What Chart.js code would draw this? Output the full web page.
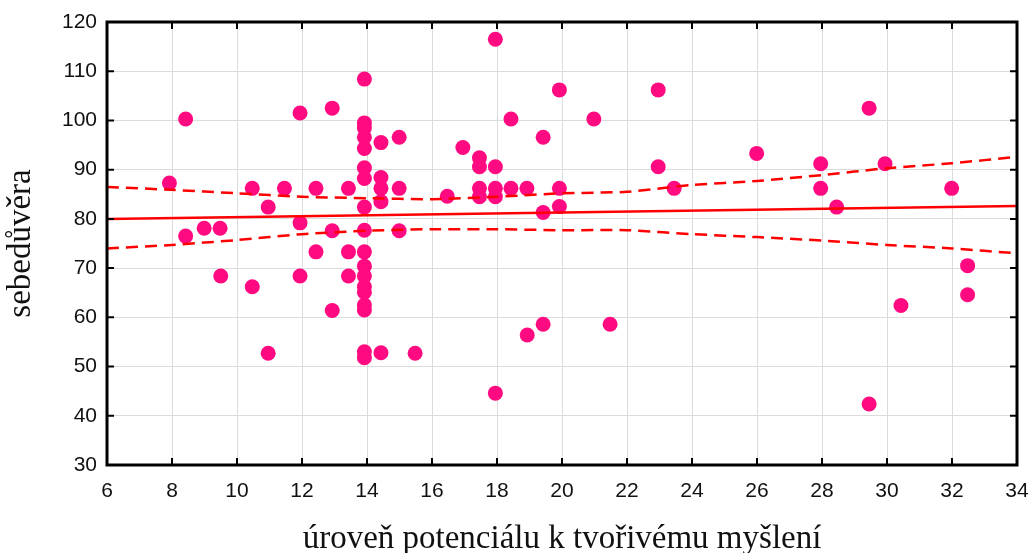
<!DOCTYPE html>
<html>
<head>
<meta charset="utf-8">
<script src="https://cdn.jsdelivr.net/npm/chart.js@4.4.0/dist/chart.umd.min.js"></script>
<style>
  html, body { margin: 0; padding: 0; background: #fff; }
</style>
</head>
<body>
<canvas id="scatter" width="1031" height="553"></canvas>
<script>
// body dat: x = úroveň potenciálu, y = sebedůvěra
const xVals = [7.92, 8.42, 8.42, 8.99, 9.48, 9.5, 10.47, 10.47, 10.96, 10.96, 11.46,
  11.94, 11.94, 11.94, 12.43, 12.43, 12.93, 12.93, 12.93, 13.43, 13.43, 13.43,
  13.92, 13.92, 13.92, 13.92, 13.92, 13.92, 13.92, 13.92, 13.92, 13.92, 13.92, 13.92, 13.92, 13.92, 13.92, 13.92, 13.92, 13.92,
  14.43, 14.43, 14.43, 14.43, 14.43, 14.99, 14.99, 14.99, 15.48, 16.47, 16.95,
  17.46, 17.46, 17.46, 17.46, 17.95, 17.95, 17.95, 17.95, 17.95, 18.43, 18.43, 18.92, 18.93,
  19.42, 19.42, 19.42, 19.92, 19.92, 19.92, 20.98, 21.48, 22.96, 22.96, 23.45, 25.99,
  27.96, 27.96, 28.45, 29.45, 29.45, 29.94, 30.43, 31.99, 32.48, 32.48];
const yVals = [87.3, 100.3, 76.5, 78.1, 78.1, 68.4, 86.2, 66.2, 82.4, 52.7, 86.2,
  101.5, 79.2, 68.4, 86.2, 73.3, 102.5, 77.6, 61.4, 86.2, 73.3, 68.4,
  108.4, 99.5, 98.5, 96.6, 94.3, 90.4, 88.2, 82.4, 77.7, 73.3, 70.4, 68.4, 66.2, 65.1, 62.5, 61.5, 53.0, 51.8,
  95.5, 88.4, 86.2, 83.5, 52.8, 96.6, 86.2, 77.6, 52.7, 84.6, 94.5,
  92.4, 90.6, 86.2, 84.5, 116.5, 90.6, 86.2, 84.5, 44.6, 100.3, 86.2, 86.2, 56.4,
  96.6, 81.3, 58.6, 106.2, 86.2, 82.5, 100.3, 58.6, 106.2, 90.6, 86.2, 93.3,
  91.2, 86.2, 82.4, 102.5, 42.4, 91.2, 62.4, 86.2, 70.5, 64.6];

// regresní přímka a pás spolehlivosti
const fitX = [6, 34];
const fitY = [80.0, 82.6];
const bandX = [6, 8, 10, 12, 14, 16, 18, 20, 22, 24, 26, 28, 30, 32, 34];
const bandUpper = [86.5, 85.9, 85.2, 84.5, 84.2, 84.0, 84.5, 85.2, 85.5, 86.9, 87.7, 88.9, 90.3, 91.3, 92.6];
const bandLower = [74.0, 74.7, 75.7, 76.9, 77.6, 77.9, 77.9, 77.7, 77.7, 76.9, 76.3, 75.6, 74.7, 74.0, 73.0];

const xTicks = [6, 8, 10, 12, 14, 16, 18, 20, 22, 24, 26, 28, 30, 32, 34];
const yTicks = [30, 40, 50, 60, 70, 80, 90, 100, 110, 120];

const zip = (xs, ys) => xs.map((x, i) => ({x: x, y: ys[i]}));

// ramecek a vnitrni carky os
const framePlugin = {
    id: "frame",
    afterDraw(chart) {
        const {ctx, chartArea: a, scales} = chart;
        const len = 7;
        ctx.save();
        ctx.strokeStyle = "#000";
        ctx.lineWidth = 2;
        xTicks.forEach(v => {
            const px = scales.x.getPixelForValue(v);
            ctx.beginPath();
            ctx.moveTo(px, a.bottom); ctx.lineTo(px, a.bottom - len);
            ctx.moveTo(px, a.top); ctx.lineTo(px, a.top + len);
            ctx.stroke();
        });
        yTicks.forEach(v => {
            const py = scales.y.getPixelForValue(v);
            ctx.beginPath();
            ctx.moveTo(a.left, py); ctx.lineTo(a.left + len, py);
            ctx.moveTo(a.right, py); ctx.lineTo(a.right - len, py);
            ctx.stroke();
        });
        ctx.lineWidth = 3;
        ctx.strokeRect(a.left, a.top, a.right - a.left, a.bottom - a.top);
        ctx.restore();
    }
};

const tickFont = {family: "'Liberation Sans Narrow', 'Liberation Sans', sans-serif", size: 21};
const titleFont = {family: "'Liberation Serif', serif", size: 33, lineHeight: 1.0};

new Chart(document.getElementById("scatter"), {
    type: "scatter",
    data: {
        datasets: [
            {
                type: "line",
                data: zip(fitX, fitY),
                borderColor: "#ff0000",
                borderWidth: 2.5,
                pointRadius: 0,
                fill: false
            },
            {
                type: "line",
                data: zip(bandX, bandUpper),
                borderColor: "#ff0000",
                borderWidth: 2.5,
                borderDash: [12, 7],
                pointRadius: 0,
                tension: 0.2,
                fill: false
            },
            {
                type: "line",
                data: zip(bandX, bandLower),
                borderColor: "#ff0000",
                borderWidth: 2.5,
                borderDash: [12, 7],
                pointRadius: 0,
                tension: 0.2,
                fill: false
            },
            {
                data: zip(xVals, yVals),
                backgroundColor: "#ff0a80",
                borderColor: "#ff0a80",
                borderWidth: 0,
                pointRadius: 7.5,
                pointHoverRadius: 7.5
            }
        ]
    },
    options: {
        responsive: false,
        animation: false,
        events: [],
        layout: {padding: {left: 0, right: 14, top: 22, bottom: 0}},
        plugins: {legend: {display: false}, tooltip: {enabled: false}},
        scales: {
            x: {
                type: "linear",
                min: 6,
                max: 34,
                afterFit: s => { s.height = 88; s.paddingLeft = 0; s.paddingRight = 0; },
                afterBuildTicks: s => { s.ticks = xTicks.map(v => ({value: v})); },
                grid: {color: "#dcdcdc", lineWidth: 1, drawTicks: false},
                border: {display: false},
                ticks: {color: "#111", font: tickFont, padding: 14, maxRotation: 0},
                title: {display: true, text: "úroveň potenciálu k tvořivému myšlení", color: "#111", font: titleFont, padding: {top: 0, bottom: -3}}
            },
            y: {
                min: 30,
                max: 120,
                afterFit: s => { s.width = 107; s.paddingTop = 0; s.paddingBottom = 0; },
                afterBuildTicks: s => { s.ticks = yTicks.map(v => ({value: v})); },
                grid: {color: "#dcdcdc", lineWidth: 1, drawTicks: false},
                border: {display: false},
                ticks: {color: "#111", font: tickFont, padding: 10},
                title: {display: true, text: "sebedůvěra", color: "#111", font: titleFont, padding: {top: 5, bottom: 0}}
            }
        }
    },
    plugins: [framePlugin]
});
</script>
</body>
</html>
